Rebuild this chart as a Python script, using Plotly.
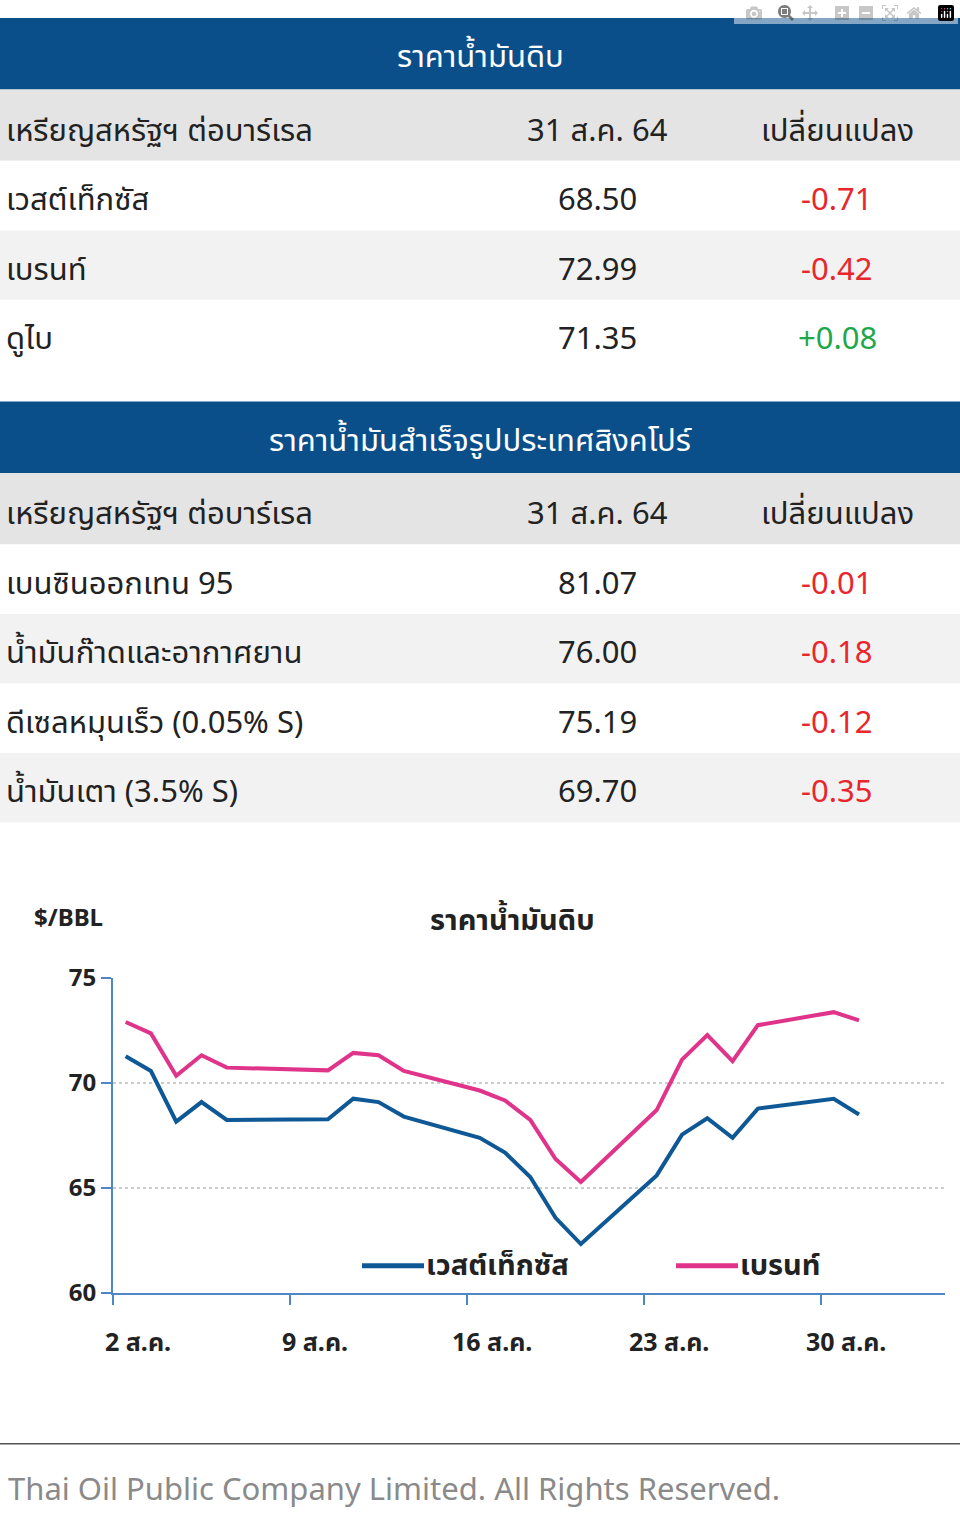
import plotly.graph_objects as go

W, H = 960, 1537

# table data
t1_title = "ราคาน้ำมันดิบ"
t1_names = ["เวสต์เท็กซัส", "เบรนท์", "ดูไบ"]
t1_price = ["68.50", "72.99", "71.35"]
t1_change = ["-0.71", "-0.42", "+0.08"]

t2_title = "ราคาน้ำมันสำเร็จรูปประเทศสิงคโปร์"
t2_names = ["เบนซินออกเทน 95", "น้ำมันก๊าดและอากาศยาน", "ดีเซลหมุนเร็ว (0.05% S)", "น้ำมันเตา (3.5% S)"]
t2_price = ["81.07", "76.00", "75.19", "69.70"]
t2_change = ["-0.01", "-0.18", "-0.12", "-0.35"]

head_cols = ["เหรียญสหรัฐฯ ต่อบาร์เรล", "31 ส.ค. 64", "เปลี่ยนแปลง"]

# chart data (day of August 2021)
days = [2, 3, 4, 5, 6, 10, 11, 12, 13, 16, 17, 18, 19, 20, 23, 24, 25, 26, 27, 30, 31]
wti = [71.27, 70.57, 68.16, 69.09, 68.24, 68.27, 69.25, 69.09, 68.40, 67.39, 66.69,
       65.52, 63.58, 62.33, 65.60, 67.54, 68.32, 67.39, 68.78, 69.25, 68.50]
brent = [72.90, 72.36, 70.34, 71.32, 70.73, 70.60, 71.43, 71.32, 70.57, 69.64, 69.17,
         68.24, 66.38, 65.29, 68.71, 71.11, 72.28, 71.04, 72.75, 73.37, 72.98]
x_labels = ["2 ส.ค.", "9 ส.ค.", "16 ส.ค.", "23 ส.ค.", "30 ส.ค."]
x_label_days = [2, 9, 16, 23, 30]
series_names = ["เวสต์เท็กซัส", "เบรนท์"]
series_colors = ["#0e5896", "#e0338a"]

FONT = "Noto Sans, Noto Sans Thai, Tahoma, sans-serif"
BLUE_HEAD = "#0b4f8a"
RED = "#e8262b"
GREEN = "#1fa84a"


def py(p):
    return 1 - p / H


def px(p):
    return p / W


shapes = []
annots = []


def band(y0, y1, color):
    shapes.append(dict(type="rect", xref="paper", yref="paper", x0=0, x1=1,
                       y0=py(y1), y1=py(y0), fillcolor=color, line_width=0, layer="below"))


def text(x, y, s, size=30, color="#222", anchor="left", bold=False):
    if bold:
        s = "<b>" + s + "</b>"
    annots.append(dict(xref="paper", yref="paper", x=px(x), y=py(y), text=s,
                       showarrow=False, xanchor=anchor, yanchor="middle",
                       font=dict(size=size, color=color, family=FONT)))


def table(top, title, names, prices, changes):
    band(top, top + 73, BLUE_HEAD)
    text(480, top + 38, title, size=31, color="white", anchor="center")
    band(top + 73, top + 146, "#e4e4e4")
    text(4, top + 113, head_cols[0], size=31)
    text(597, top + 113, head_cols[1], size=31, anchor="center")
    text(837, top + 113, head_cols[2], size=31, anchor="center")
    for i, (n, p, c) in enumerate(zip(names, prices, changes)):
        y0 = top + 146 + i * 71
        band(y0, y0 + 71, "#ffffff" if i % 2 == 0 else "#f2f2f2")
        text(4, y0 + 38, n, size=31)
        text(597, y0 + 38, p, size=31, anchor="center")
        text(837, y0 + 38, c, size=31, color=GREEN if c.startswith("+") else RED, anchor="center")


table(0, t1_title, t1_names, t1_price, t1_change)
table(392, t2_title, t2_names, t2_price, t2_change)

# chart labels
text(512, 920, "ราคาน้ำมันดิบ", size=29, anchor="center", bold=True)
text(32, 918, "$/BBL", size=24, bold=True)
for d, lab in zip(x_label_days, x_labels):
    text(113 + (d - 1.5) * 25.3 + 12, 1352, lab, size=25, anchor="center", bold=True)

# legend drawn by hand
for (lx, name, col) in zip([362, 676], series_names, series_colors):
    shapes.append(dict(type="line", xref="paper", yref="paper", x0=px(lx), x1=px(lx + 62),
                       y0=py(1275), y1=py(1275), line=dict(color=col, width=5)))
    text(lx + 62, 1273, name, size=29, bold=True)

# footer
shapes.append(dict(type="line", xref="paper", yref="paper", x0=0, x1=1,
                   y0=py(1457), y1=py(1457), line=dict(color="#555", width=1.5)))
text(6, 1502, "Thai Oil Public Company Limited. All Rights Reserved.", size=31, color="#8a8a8a")

fig = go.Figure()
for ys, name, col in zip([wti, brent], series_names, series_colors):
    fig.add_trace(go.Scatter(x=days, y=ys, mode="lines", name=name,
                             line=dict(color=col, width=4)))

fig.update_layout(
    width=W, height=H, margin=dict(l=0, r=0, t=0, b=0),
    paper_bgcolor="white", plot_bgcolor="white",
    shapes=shapes, annotations=annots,
    font=dict(family=FONT),
    showlegend=False,
    xaxis=dict(domain=[px(113), px(945)], range=[1.5, 34.4], showgrid=False,
               showticklabels=False, ticks="", zeroline=False,
               showline=True, linecolor="#4f86c6", linewidth=2,
               minor=dict(tick0=1.5, dtick=7, ticks="outside", ticklen=10,
                          tickcolor="#4f86c6", tickwidth=2)),
    yaxis=dict(domain=[py(1303), py(981)], range=[60, 75], tickvals=[60, 65, 70, 75],
               ticktext=["<b>60</b>", "<b>65</b>", "<b>70</b>", "<b>75</b>"],
               tickfont=dict(size=24, color="#222", family=FONT),
               ticks="outside", ticklen=10, tickcolor="#4f86c6", tickwidth=2,
               showline=True, linecolor="#4f86c6", linewidth=2, zeroline=False,
               showgrid=True, gridcolor="#cccccc", griddash="dot", gridwidth=1.5),
)

fig.write_html("out.html", post_script="document.body.style.margin='0';")
